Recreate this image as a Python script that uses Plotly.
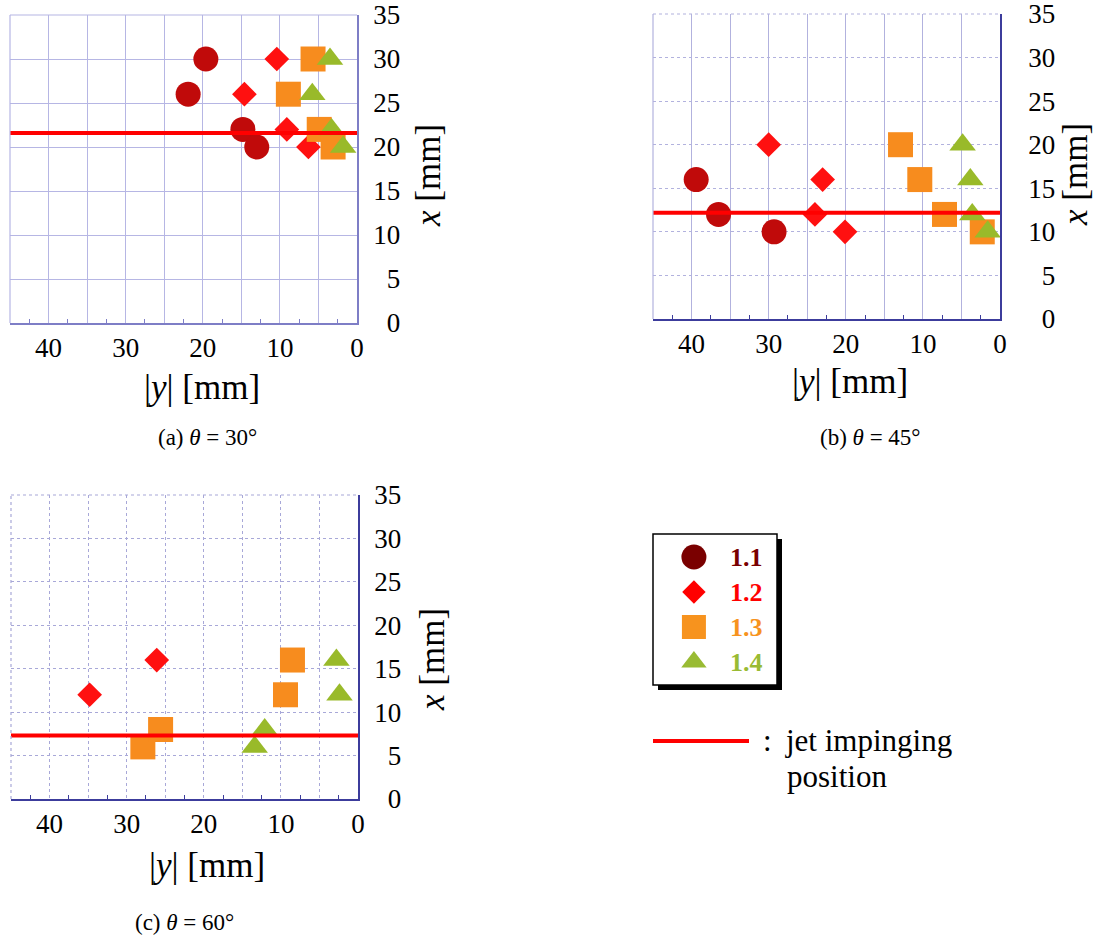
import numpy as np
import plotly.graph_objects as go

W, H = 1094, 936          # browser window
OFF = 0                   # page margin removed by the post script below
FW, FH = W - OFF, H - OFF
FONT = "'Liberation Serif', 'Times New Roman', Times, 'DejaVu Serif', serif"

# ---------------- data ----------------
series_names = ["1.1", "1.2", "1.3", "1.4"]
series_symbols = ["circle", "diamond", "square", "triangle-up"]
series_sizes = [25, 19, 25, 23]
marker_colors = ["#c00a0a", "#ff1010", "#f78c1e", "#99ba2a"]
legend_colors = ["#7a0000", "#ff0000", "#f7931e", "#99bb33"]
legend_sizes = [25, 18, 24, 22]

# (a) theta = 30 deg : |y| [mm] (horizontal), x [mm] (vertical)
a_absy_11 = [19.6, 21.9, 14.8, 13.0]
a_x_11 = [30, 26, 22, 20]
a_absy_12 = [10.4, 14.6, 9.1, 6.3]
a_x_12 = [30, 26, 22, 20]
a_absy_13 = [5.7, 8.9, 4.9, 3.1]
a_x_13 = [30, 26, 22, 20]
a_absy_14 = [3.5, 5.8, 3.3, 1.8]
a_x_14 = [30, 26, 22, 20]
a_jet = 21.6

# (b) theta = 45 deg
b_absy_11 = [39.4, 36.5, 29.3]
b_x_11 = [16, 12, 10]
b_absy_12 = [30.0, 23.0, 24.0, 20.1]
b_x_12 = [20, 16, 12, 10]
b_absy_13 = [12.9, 10.4, 7.2, 2.3]
b_x_13 = [20, 16, 12, 10]
b_absy_14 = [4.85, 3.85, 3.6, 1.6]
b_x_14 = [20, 16, 12, 10]
b_jet = 12.2

# (c) theta = 60 deg
c_absy_11 = []
c_x_11 = []
c_absy_12 = [34.8, 26.1]
c_x_12 = [12, 16]
c_absy_13 = [27.9, 25.6, 8.5, 9.4]
c_x_13 = [6, 8, 16, 12]
c_absy_14 = [13.4, 12.1, 2.8, 2.4]
c_x_14 = [6, 8, 16, 12]
c_jet = 7.3

x_range = [45, 0]
y_range = [0, 35]
x_tickvals = [40, 35, 30, 25, 20, 15, 10, 5, 0]
x_ticktext = ["40", "", "30", "", "20", "", "10", "", "0"]
y_tickvals = [0, 5, 10, 15, 20, 25, 30, 35]
y_ticktext = ["\u20070", "\u20075", "10", "15", "20", "25", "30", "35"]
captions = ["(a) <i>\u03b8</i> = 30\u00b0", "(b) <i>\u03b8</i> = 45\u00b0", "(c) <i>\u03b8</i> = 60\u00b0"]

panels = [
    dict(data=[(a_absy_11, a_x_11), (a_absy_12, a_x_12), (a_absy_13, a_x_13), (a_absy_14, a_x_14)],
         jet=a_jet, box=(10, 357, 15, 323), grid="#b6b6e4", xdash="solid", ydash="solid",
         line="#7e7ec6", ystand=9, xtitle=(202, 387), ytitle=(428, 176), cap=(207, 437)),
    dict(data=[(b_absy_11, b_x_11), (b_absy_12, b_x_12), (b_absy_13, b_x_13), (b_absy_14, b_x_14)],
         jet=b_jet, box=(653, 1000, 14, 319), grid="#b2b2de", xdash="solid", ydash="dot",
         line="#3c3c9c", ystand=21, xtitle=(850, 381), ytitle=(1075, 175), cap=(870, 437)),
    dict(data=[(c_absy_11, c_x_11), (c_absy_12, c_x_12), (c_absy_13, c_x_13), (c_absy_14, c_x_14)],
         jet=c_jet, box=(11, 358, 495, 799), grid="#a8a8d8", xdash="dot", ydash="dot",
         line="#3c3c9c", ystand=9, xtitle=(207, 865), ytitle=(432, 660), cap=(184, 922)),
]

fig = go.Figure()
layout = dict(width=FW, height=FH, margin=dict(l=0, r=0, t=0, b=0, autoexpand=False),
              paper_bgcolor="white", plot_bgcolor="rgba(0,0,0,0)", showlegend=False,
              font=dict(family=FONT, color="black"))
annotations = []
shapes = []

def px(xp):
    return (xp - OFF) / FW

def py(yp):
    return 1 - (yp - OFF) / FH

minor_vals = list(np.arange(2.5, 45, 5))

for i, p in enumerate(panels):
    n = i + 1
    xs = "x" if n == 1 else f"x{n}"
    ys = "y" if n == 1 else f"y{n}"
    xl = "xaxis" if n == 1 else f"xaxis{n}"
    yl = "yaxis" if n == 1 else f"yaxis{n}"
    x0, x1, y0, y1 = p["box"]
    layout[xl] = dict(domain=[px(x0), px(x1)], range=x_range, anchor=ys, automargin=False,
                      tickmode="array", tickvals=x_tickvals, ticktext=x_ticktext,
                      showgrid=True, gridcolor=p["grid"], griddash=p["xdash"], gridwidth=1,
                      showline=True, linecolor=p["line"], linewidth=1.5, zeroline=False,
                      ticks="", ticklabelstandoff=0, ticklabeloverflow="allow",
                      tickfont=dict(family=FONT, size=27, color="black"),
                      minor=dict(tickvals=minor_vals, ticks="inside", ticklen=4,
                                 tickcolor=p["line"], tickwidth=1, showgrid=False),
                      fixedrange=True)
    layout[yl] = dict(domain=[py(y1), py(y0)], range=y_range, anchor=xs, side="right", automargin=False,
                      tickmode="array", tickvals=y_tickvals, ticktext=y_ticktext,
                      showgrid=True, gridcolor=p["grid"], griddash=p["ydash"], gridwidth=1,
                      showline=True, linecolor=p["line"], linewidth=1.5, zeroline=False,
                      ticks="", ticklabelstandoff=p["ystand"], ticklabeloverflow="allow",
                      tickfont=dict(family=FONT, size=27, color="black"),
                      fixedrange=True)
    # left and top borders of the plotting frame
    shapes.append(dict(type="line", xref=f"{xs} domain", yref=f"{ys} domain", x0=0, x1=0, y0=0, y1=1,
                       line=dict(color=p["grid"], width=1.2, dash=p["xdash"]), layer="above"))
    shapes.append(dict(type="line", xref=f"{xs} domain", yref=f"{ys} domain", x0=0, x1=1, y0=1, y1=1,
                       line=dict(color=p["grid"], width=1.2, dash=p["ydash"]), layer="above"))
    for k, (ay, ax_) in enumerate(p["data"]):
        fig.add_trace(go.Scatter(x=ay, y=ax_, mode="markers", xaxis=xs, yaxis=ys,
                                 name=series_names[k],
                                 marker=dict(symbol=series_symbols[k], size=series_sizes[k],
                                             color=marker_colors[k], line=dict(width=0)),
                                 cliponaxis=False))
    fig.add_trace(go.Scatter(x=x_range, y=[p["jet"], p["jet"]], mode="lines", xaxis=xs, yaxis=ys,
                             line=dict(color="#ff0000", width=4), name="jet impinging position"))
    annotations.append(dict(x=px(p["xtitle"][0]), y=py(p["xtitle"][1]), xref="paper", yref="paper",
                            text="|<i>y</i>| [mm]", showarrow=False, xanchor="center", yanchor="middle",
                            font=dict(family=FONT, size=35, color="black")))
    annotations.append(dict(x=px(p["ytitle"][0]), y=py(p["ytitle"][1]), xref="paper", yref="paper",
                            text="<i>x</i> [mm]", showarrow=False, textangle=-90,
                            xanchor="center", yanchor="middle",
                            font=dict(family=FONT, size=35, color="black")))
    annotations.append(dict(x=px(p["cap"][0]), y=py(p["cap"][1]), xref="paper", yref="paper",
                            text=captions[i], showarrow=False, xanchor="center", yanchor="middle",
                            font=dict(family=FONT, size=23, color="black")))

# ---------------- legend ----------------
LX0, LX1, LY0, LY1 = 653, 777, 534, 685
shapes.append(dict(type="rect", xref="paper", yref="paper", x0=px(LX0 + 5), x1=px(LX1 + 5),
                   y0=py(LY1 + 5), y1=py(LY0 + 5), fillcolor="black", line=dict(width=0), layer="below"))
shapes.append(dict(type="rect", xref="paper", yref="paper", x0=px(LX0), x1=px(LX1),
                   y0=py(LY1), y1=py(LY0), fillcolor="white", line=dict(color="black", width=1.5),
                   layer="below"))
layout["xaxis4"] = dict(domain=[px(LX0), px(LX1)], range=[0, 1], visible=False, anchor="y4",
                        automargin=False, fixedrange=True)
layout["yaxis4"] = dict(domain=[py(LY1), py(LY0)], range=[3.657, -0.657], visible=False, anchor="x4",
                        automargin=False, fixedrange=True)
rows = list(range(len(series_names)))
for k in rows:
    fig.add_trace(go.Scatter(x=[0.33], y=[k], mode="markers", xaxis="x4", yaxis="y4",
                             marker=dict(symbol=series_symbols[k], size=legend_sizes[k],
                                         color=legend_colors[k], line=dict(width=0))))
    annotations.append(dict(x=0.605, y=k, xref="x4", yref="y4", text=f"<b>{series_names[k]}</b>",
                            showarrow=False, xanchor="left", yanchor="middle",
                            font=dict(family=FONT, size=26, color=legend_colors[k])))

# jet impinging position key
shapes.append(dict(type="line", xref="paper", yref="paper", x0=px(653), x1=px(749), y0=py(741), y1=py(741),
                   line=dict(color="#ff0000", width=4)))
annotations.append(dict(x=px(767), y=py(740), xref="paper", yref="paper", text=":", showarrow=False,
                        xanchor="center", yanchor="middle", font=dict(family=FONT, size=31, color="black")))
annotations.append(dict(x=px(783), y=py(740), xref="paper", yref="paper", text="jet impinging",
                        showarrow=False, xanchor="left", yanchor="middle",
                        font=dict(family=FONT, size=31, color="black")))
annotations.append(dict(x=px(785), y=py(776), xref="paper", yref="paper", text="position",
                        showarrow=False, xanchor="left", yanchor="middle",
                        font=dict(family=FONT, size=31, color="black")))

layout["annotations"] = annotations
layout["shapes"] = shapes
fig.update_layout(**layout)
fig.write_html("out.html", config={"displayModeBar": False},
               post_script="document.body.style.margin='0px';document.body.style.overflow='hidden';")
